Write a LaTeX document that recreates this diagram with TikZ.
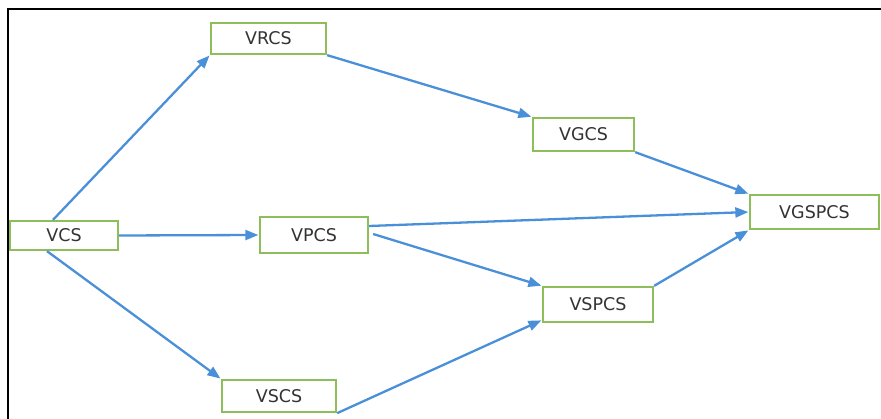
\documentclass[tikz,border=0pt]{standalone}
\usepackage{fontspec}
\setmainfont{DejaVu Sans}
\usetikzlibrary{arrows.meta}
\definecolor{boxgreen}{RGB}{141,190,90}
\definecolor{arrowblue}{RGB}{74,144,217}
\tikzset{
  stage/.style={draw=boxgreen, line width=1.8pt, fill=white, inner sep=0pt,
    font=\fontsize{17.5}{20}\selectfont, text=black!80},
  flow/.style={draw=arrowblue, line width=2.3pt, -{Triangle[length=13pt,width=10pt]}, shorten >=0.5pt}
}
\begin{document}
\begin{tikzpicture}[x=1pt,y=-1pt]
\useasboundingbox (0,0) rectangle (881,419);
\draw[line width=2pt, black] (7.5,419) -- (7.5,9.5) -- (881,9.5);
\node[stage, minimum width=108pt, minimum height=29.5pt] (vcs) at (64,235.5) {VCS};
\node[stage, minimum width=115.5pt, minimum height=31.5pt] (vrcs) at (268.5,38.5) {VRCS};
\node[stage, minimum width=101.5pt, minimum height=33.5pt] (vgcs) at (583.5,134.5) {VGCS};
\node[stage, minimum width=108.5pt, minimum height=36.5pt] (vpcs) at (314,235) {VPCS};
\node[stage, minimum width=129.5pt, minimum height=34.5pt] (vgspcs) at (814.5,212) {VGSPCS};
\node[stage, minimum width=110.5pt, minimum height=35.5pt] (vspcs) at (598,304.5) {VSPCS};
\node[stage, minimum width=114.5pt, minimum height=32.5pt] (vscs) at (279,396) {VSCS};
\draw[flow] ([xshift=-11pt]vcs.north) -- (vrcs.south west);
\draw[flow] ([xshift=-17pt]vcs.south) -- (vscs.north west);
\draw[flow] (vcs.east) -- (vpcs.west);
\draw[flow] (vrcs.south east) -- (vgcs.north west);
\draw[flow] (vgcs.south east) -- (vgspcs.north west);
\draw[flow] ([yshift=9pt]vpcs.east) -- (vgspcs.west);
\draw[flow] ([xshift=4pt,yshift=1pt]vpcs.east) -- (vspcs.north west);
\draw[flow] (vspcs.north east) -- (vgspcs.south west);
\draw[flow] (vscs.south east) -- ([yshift=3pt]vspcs.south west);
\end{tikzpicture}
\end{document}
